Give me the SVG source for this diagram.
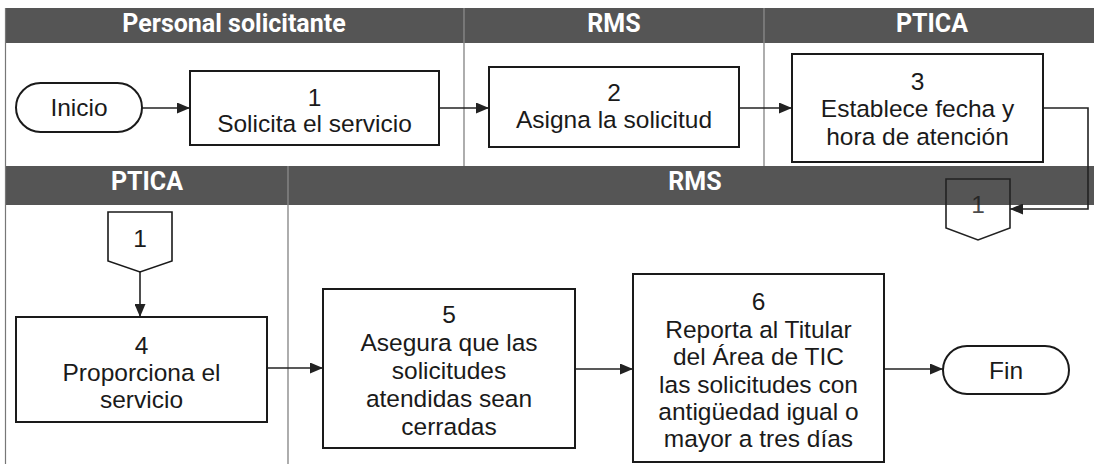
<svg xmlns="http://www.w3.org/2000/svg" width="1094" height="464" viewBox="0 0 1094 464">
<defs>
<marker id="arr" viewBox="0 0 13 11" refX="13" refY="5.5" markerWidth="13" markerHeight="11" markerUnits="userSpaceOnUse" orient="auto"><path d="M0,0 L13,5.5 L0,11 z" fill="#222"/></marker>
</defs>
<style>
.band{fill:#555}
.hdr{font-family:Roboto,"Liberation Sans",sans-serif;font-weight:700;font-size:25px;fill:#fff;text-anchor:middle}
.sep{stroke:#8f8f8f;stroke-width:1.2}
.lane{stroke:#777;stroke-width:1.2;fill:none}
.box{fill:#fff;stroke:#1a1a1a;stroke-width:2}
.t{font-family:"Liberation Sans",Arial,sans-serif;font-size:24.5px;fill:#1a1a1a;text-anchor:middle}
.c{fill:none;stroke:#222;stroke-width:1.6}
</style>
<rect x="0" y="0" width="1094" height="464" fill="#fff"/>
<g id="lanes">
  <rect class="band" x="5" y="8" width="1089" height="35"/>
  <rect class="band" x="5" y="166" width="1089" height="39"/>
  <line class="lane" x1="5.5" y1="8" x2="5.5" y2="464"/>
  <line class="lane" x1="464" y1="43" x2="464" y2="166"/>
  <line class="lane" x1="764" y1="43" x2="764" y2="166"/>
  <line class="lane" x1="288" y1="205" x2="288" y2="464"/>
  <line class="sep" x1="464" y1="8" x2="464" y2="43"/>
  <line class="sep" x1="764" y1="8" x2="764" y2="43"/>
  <line class="sep" x1="288" y1="166" x2="288" y2="205"/>
  <text class="hdr" x="234" y="32">Personal solicitante</text>
  <text class="hdr" x="614" y="32">RMS</text>
  <text class="hdr" x="932" y="32">PTICA</text>
  <text class="hdr" x="147" y="190">PTICA</text>
  <text class="hdr" x="695" y="190">RMS</text>
</g>
<g id="connectors">
  <path class="c" d="M142,108 H190" marker-end="url(#arr)"/>
  <path class="c" d="M439,108 H489" marker-end="url(#arr)"/>
  <path class="c" d="M739,108 H792" marker-end="url(#arr)"/>
  <path class="c" d="M1043,108 H1088 V209 H1010" marker-end="url(#arr)"/>
  <path class="c" d="M140,272 V317" marker-end="url(#arr)"/>
  <path class="c" d="M267,368 H323" marker-end="url(#arr)"/>
  <path class="c" d="M575,369 H633" marker-end="url(#arr)"/>
  <path class="c" d="M884,369 H943" marker-end="url(#arr)"/>
</g>
<g id="inicio">
  <rect class="box" x="16" y="83" width="126" height="49" rx="24.5"/>
  <text class="t" x="79" y="116">Inicio</text>
</g>
<g id="n1">
  <rect class="box" x="190" y="71" width="249" height="74"/>
  <text class="t" x="314.5" y="106">1</text>
  <text class="t" x="314.5" y="132">Solicita el servicio</text>
</g>
<g id="n2">
  <rect class="box" x="489" y="67" width="250" height="80"/>
  <text class="t" x="614" y="101">2</text>
  <text class="t" x="614" y="128">Asigna la solicitud</text>
</g>
<g id="n3">
  <rect class="box" x="792" y="54" width="251" height="108"/>
  <text class="t" x="917.5" y="90">3</text>
  <text class="t" x="917.5" y="117">Establece fecha y</text>
  <text class="t" x="917.5" y="145">hora de atención</text>
</g>
<g id="off1">
  <polygon points="946,205 1010,205 1010,228 978,240 946,228" fill="#fff"/>
  <polygon points="946,179 1010,179 1010,228 978,240 946,228" fill="none" stroke="#222" stroke-width="1.6"/>
  <text class="t" x="978" y="213" fill-opacity="0.8">1</text>
</g>
<g id="off2">
  <polygon class="box" points="108,212 172,212 172,261 140,272 108,261" style="stroke-width:1.6"/>
  <text class="t" x="140" y="247">1</text>
</g>
<g id="n4">
  <rect class="box" x="16" y="317" width="251" height="105"/>
  <text class="t" x="141.5" y="354">4</text>
  <text class="t" x="141.5" y="381">Proporciona el</text>
  <text class="t" x="141.5" y="408">servicio</text>
</g>
<g id="n5">
  <rect class="box" x="323" y="289" width="252" height="159"/>
  <text class="t" x="449" y="323">5</text>
  <text class="t" x="449" y="351">Asegura que las</text>
  <text class="t" x="449" y="379">solicitudes</text>
  <text class="t" x="449" y="407">atendidas sean</text>
  <text class="t" x="449" y="435">cerradas</text>
</g>
<g id="n6">
  <rect class="box" x="633" y="274" width="251" height="188"/>
  <text class="t" x="758.5" y="310">6</text>
  <text class="t" x="758.5" y="338">Reporta al Titular</text>
  <text class="t" x="758.5" y="365">del Área de TIC</text>
  <text class="t" x="758.5" y="393">las solicitudes con</text>
  <text class="t" x="758.5" y="420">antigüedad igual o</text>
  <text class="t" x="758.5" y="447">mayor a tres días</text>
</g>
<g id="fin">
  <rect class="box" x="943" y="346" width="126" height="48" rx="24"/>
  <text class="t" x="1006" y="379">Fin</text>
</g>
</svg>
